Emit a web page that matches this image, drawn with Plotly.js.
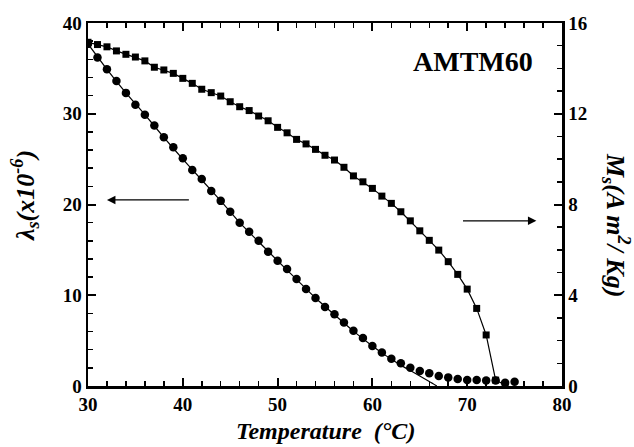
<!DOCTYPE html>
<html>
<head>
<meta charset="utf-8">
<script src="https://cdn.plot.ly/plotly-3.0.1.min.js"></script>
<style>
  html, body { margin: 0; padding: 0; background: #fff; }
  #chart { width: 634px; height: 447px; }
</style>
</head>
<body>
<div id="chart"></div>
<script>
// Magnetostriction (left axis) measured every 1 °C
const tempLambda = [30,31,32,33,34,35,36,37,38,39,40,41,42,43,44,45,46,47,48,49,50,51,52,53,54,55,56,57,58,59,60,61,62,63,64,65,66,67,68,69,70,71,72,73,74,75];
const lambdaS = [37.7,36.2,34.9,33.6,32.3,31.0,29.9,28.7,27.4,26.3,25.1,23.8,22.8,21.5,20.4,19.2,18.0,17.0,16.0,14.8,13.8,12.9,11.8,10.7,9.7,8.7,7.9,7.0,6.1,5.3,4.4,3.7,3.0,2.5,2.0,1.65,1.4,1.1,0.95,0.77,0.66,0.66,0.6,0.6,0.35,0.47];

// Fitted curve through the magnetostriction data
const fitTemp = [30,32,34,36,38,40,42,44,46,48,50,52,54,56,58,60,61,62,63,64,65,66,66.8];
const fitLambda = [37.7,34.9,32.3,29.9,27.4,25.0,22.7,20.4,18.0,15.9,13.8,11.75,9.7,7.85,6.05,4.4,3.65,2.95,2.3,1.7,1.1,0.5,0.0];

// Saturation magnetisation (right axis)
const tempMs = [30,31,32,33,34,35,36,37,38,39,40,41,42,43,44,45,46,47,48,49,50,51,52,53,54,55,56,57,58,59,60,61,62,63,64,65,66,67,68,69,70,71,72,73,74];
const msValues = [15.15,15.05,14.95,14.77,14.62,14.5,14.33,14.05,13.93,13.78,13.56,13.34,13.08,12.93,12.78,12.53,12.31,12.14,11.9,11.69,11.4,11.16,10.87,10.67,10.43,10.17,9.96,9.64,9.26,9.0,8.71,8.37,8.05,7.68,7.28,6.84,6.42,5.99,5.48,4.92,4.27,3.42,2.25,0.26,0.04];

const xTicks = [30,40,50,60,70,80];
const yLeftTicks = [0,10,20,30,40];
const yRightTicks = [0,4,8,12,16];

const serif = '"Liberation Serif"';
const tickFont = {family: serif, size: 19, color: '#000', weight: 'bold'};
const titleFont = {family: serif, size: 24, color: '#000', weight: 'bold', style: 'italic'};
const sideTitleFont = {family: serif, size: 26, color: '#000', weight: 'bold', style: 'italic'};

const traces = [
  {
    x: fitTemp, y: fitLambda, type: 'scatter', mode: 'lines',
    line: {color: '#000', width: 1.2, shape: 'spline', smoothing: 0.6},
    xaxis: 'x', yaxis: 'y', hoverinfo: 'skip'
  },
  {
    x: tempLambda, y: lambdaS, type: 'scatter', mode: 'markers',
    marker: {symbol: 'circle', size: 8.5, color: '#000'},
    xaxis: 'x', yaxis: 'y'
  },
  {
    x: tempMs, y: msValues, type: 'scatter', mode: 'lines+markers',
    line: {color: '#000', width: 1.2},
    marker: {symbol: 'square', size: 7, color: '#000'},
    xaxis: 'x', yaxis: 'y2'
  }
];

const layout = {
  width: 634, height: 447,
  margin: {l: 88, r: 72, t: 23, b: 61},
  paper_bgcolor: '#fff', plot_bgcolor: '#fff',
  showlegend: false,
  font: {family: serif, color: '#000'},
  xaxis: {
    range: [30, 80], tickvals: xTicks, ticktext: xTicks.map(String),
    ticks: 'inside', ticklen: 8, tickwidth: 2, tickcolor: '#000',
    minor: {dtick: 2, ticks: 'inside', ticklen: 5, tickwidth: 1.5, tickcolor: '#000'},
    showline: true, linewidth: 2.5, linecolor: '#000', mirror: 'ticks',
    showgrid: false, zeroline: false, tickfont: tickFont
  },
  yaxis: {
    range: [0, 40], tickvals: yLeftTicks, ticktext: yLeftTicks.map(String),
    ticks: 'inside', ticklen: 8, tickwidth: 2, tickcolor: '#000',
    minor: {dtick: 2, ticks: 'inside', ticklen: 5, tickwidth: 1.5, tickcolor: '#000'},
    showline: true, linewidth: 2.5, linecolor: '#000',
    showgrid: false, zeroline: false, tickfont: tickFont
  },
  yaxis2: {
    range: [0, 16], overlaying: 'y', side: 'right',
    tickvals: yRightTicks, ticktext: yRightTicks.map(String),
    ticks: 'inside', ticklen: 8, tickwidth: 2, tickcolor: '#000',
    minor: {dtick: 1, ticks: 'inside', ticklen: 5, tickwidth: 1.5, tickcolor: '#000'},
    showline: true, linewidth: 2.5, linecolor: '#000',
    showgrid: false, zeroline: false, tickfont: tickFont
  },
  annotations: [
    {
      text: 'AMTM60', xref: 'paper', yref: 'paper', x: 0.812, y: 0.893,
      xanchor: 'center', yanchor: 'middle', showarrow: false,
      font: {family: serif, size: 28, color: '#000', weight: 'bold'}
    },
    {
      text: 'Temperature  (°C)', xref: 'paper', yref: 'paper', x: 0.5, y: -0.166,
      xanchor: 'center', yanchor: 'bottom', showarrow: false, font: titleFont
    },
    {
      text: 'λ<sub>s</sub>(x10<sup>-6</sup>)', xref: 'paper', yref: 'paper', x: -0.133, y: 0.526,
      xanchor: 'center', yanchor: 'middle', showarrow: false, textangle: -90, font: sideTitleFont
    },
    {
      text: 'M<sub>s</sub>(A m<sup>2</sup>/ Kg)', xref: 'paper', yref: 'paper', x: 1.114, y: 0.4435,
      xanchor: 'center', yanchor: 'middle', showarrow: false, textangle: 90, font: sideTitleFont
    },
    {
      x: 32.0, y: 20.5, ax: 40.8, ay: 20.5, xref: 'x', yref: 'y', axref: 'x', ayref: 'y',
      text: '', showarrow: true, arrowhead: 2, arrowsize: 1.3, arrowwidth: 1.3, arrowcolor: '#000'
    },
    {
      x: 77.3, y: 18.2, ax: 69.4, ay: 18.2, xref: 'x', yref: 'y', axref: 'x', ayref: 'y',
      text: '', showarrow: true, arrowhead: 2, arrowsize: 1.3, arrowwidth: 1.3, arrowcolor: '#000'
    }
  ]
};

Plotly.newPlot('chart', traces, layout, {displayModeBar: false, staticPlot: true});
</script>
</body>
</html>
